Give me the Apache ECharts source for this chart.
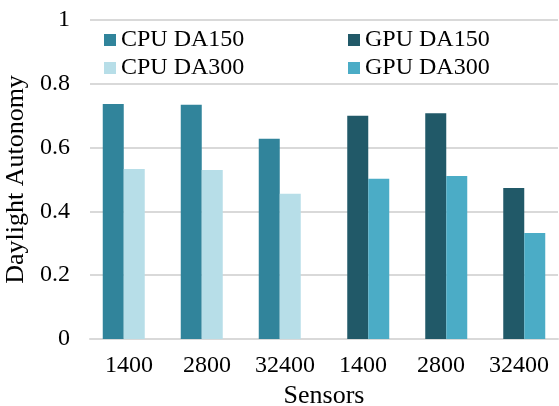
<!DOCTYPE html>
<html>
<head>
<meta charset="utf-8">
<script src="https://cdn.jsdelivr.net/npm/echarts@6/dist/echarts.min.js"></script>
<style>
  html, body { margin: 0; padding: 0; background: #fff; }
  #chart { width: 559px; height: 406px; }
</style>
</head>
<body>
<div id="chart"></div>
<script>
// sensor counts, first three for CPU runs, last three for GPU runs
const categories = ['1400', '2800', '32400', '1400', '2800', '32400']
const yTicks = [0, 0.2, 0.4, 0.6, 0.8, 1]

const cpuDA150 = [0.737, 0.734, 0.628, null, null, null]
const cpuDA300 = [0.533, 0.530, 0.455, null, null, null]
const gpuDA150 = [null, null, null, 0.700, 0.708, 0.473]
const gpuDA300 = [null, null, null, 0.502, 0.511, 0.332]

const font = '"Liberation Serif", "Times New Roman", serif'

const chart = echarts.init(document.getElementById('chart'))

const barSeries = (name, data, color) => ({
  name,
  type: 'bar',
  data,
  barWidth: 21,
  barGap: '-50%',
  itemStyle: { color },
})

const legendCommon = {
  orient: 'vertical',
  top: 28,
  padding: 0,
  itemWidth: 12,
  itemHeight: 12,
  itemGap: 4,
  icon: 'rect',
  textStyle: { fontFamily: font, fontSize: 24, color: '#000' },
}

chart.setOption({
  animation: false,
  grid: { left: 90, right: 1, top: 20, bottom: 67, outerBoundsMode: 'none' },
  legend: [
    { ...legendCommon, left: 104, data: ['CPU DA150', 'CPU DA300'] },
    { ...legendCommon, left: 348, data: ['GPU DA150', 'GPU DA300'] },
  ],
  xAxis: {
    type: 'category',
    data: categories,
    name: 'Sensors',
    nameLocation: 'middle',
    nameGap: 40,
    nameTextStyle: { fontFamily: font, fontSize: 26, color: '#000' },
    axisLine: { lineStyle: { color: '#d9d9d9', width: 2 } },
    axisTick: { show: false },
    axisLabel: { fontFamily: font, fontSize: 24, color: '#000', margin: 15, interval: 0, hideOverlap: false },
  },
  yAxis: {
    type: 'value',
    min: yTicks[0],
    max: yTicks[yTicks.length - 1],
    interval: 0.2,
    name: 'Daylight Autonomy',
    nameLocation: 'middle',
    nameGap: 58,
    nameTextStyle: { fontFamily: font, fontSize: 26, color: '#000' },
    axisLine: { show: false },
    axisTick: { show: false },
    axisLabel: { fontFamily: font, fontSize: 24, color: '#000', margin: 20 },
    splitLine: { lineStyle: { color: '#d9d9d9', width: 2 } },
  },
  series: [
    barSeries('CPU DA150', cpuDA150, '#31849b'),
    barSeries('GPU DA150', gpuDA150, '#215968'),
    barSeries('CPU DA300', cpuDA300, '#b7dee8'),
    barSeries('GPU DA300', gpuDA300, '#4bacc6'),
  ],
})
</script>
</body>
</html>
